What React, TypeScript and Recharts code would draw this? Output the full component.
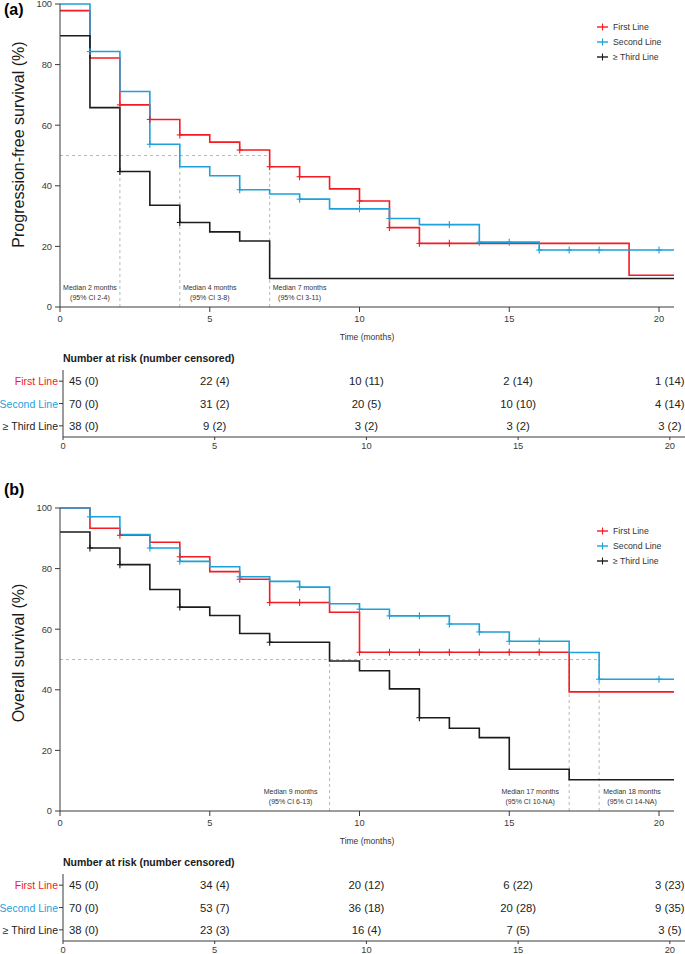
import React from 'react';
import { ComposedChart, Line, Scatter, XAxis, YAxis, ReferenceLine, ReferenceDot } from 'recharts';

const FONT = '"Liberation Sans", Arial, Helvetica, sans-serif';
const RED = '#F41B22';
const BLUE = '#1DA1DA';
const BLACK = '#1C1C1C';
const GREY = '#A6A6A6';
const AXIS = '#3A3A3A';

const groups = ['First Line', 'Second Line', '≥ Third Line'];
const groupColors = [RED, BLUE, BLACK];
const timeTicks = [0, 5, 10, 15, 20];
const survTicks = [0, 20, 40, 60, 80, 100];
const riskTimes = [0, 5, 10, 15, 20];

// (a) progression-free survival: step times (months), survival (%), censor times
const pfsFirstT = [0, 1, 2, 3, 4, 5, 6, 7, 8, 9, 10, 11, 12, 19, 20.5];
const pfsFirstS = [97.8, 82.2, 66.7, 61.9, 56.8, 54.4, 51.8, 46.3, 43.0, 39.0, 35.0, 26.2, 21.0, 10.5, 10.5];
const pfsFirstCens = [2, 3, 4, 6, 7, 8, 10, 11, 12, 13];

const pfsSecondT = [0, 1, 2, 3, 4, 5, 6, 7, 8, 9, 11, 12, 14, 16, 20.5];
const pfsSecondS = [100, 84.3, 71.1, 53.7, 46.3, 43.3, 38.7, 37.3, 35.6, 32.4, 29.2, 27.2, 21.4, 18.8, 18.8];
const pfsSecondCens = [1, 3, 6, 8, 10, 11, 13, 14, 15, 16, 17, 18, 20];

const pfsThirdT = [0, 1, 2, 3, 4, 5, 6, 7, 20.5];
const pfsThirdS = [89.5, 65.8, 44.7, 33.6, 27.9, 24.8, 21.8, 9.4, 9.4];
const pfsThirdCens = [2, 4];

// (b) overall survival
const osFirstT = [0, 1, 2, 3, 4, 5, 6, 7, 9, 10, 17, 20.5];
const osFirstS = [100, 93.3, 91.0, 88.7, 83.9, 79.0, 76.5, 68.8, 65.6, 52.4, 39.3, 39.3];
const osFirstCens = [2, 4, 6, 7, 8, 10, 11, 12, 13, 14, 15, 16];

const osSecondT = [0, 1, 2, 3, 4, 5, 6, 7, 8, 9, 10, 11, 13, 14, 15, 17, 18, 20.5];
const osSecondS = [100, 97.1, 91.2, 86.8, 82.4, 80.6, 77.3, 75.8, 73.9, 68.4, 66.6, 64.4, 61.7, 59.1, 56.0, 52.3, 43.5, 43.5];
const osSecondCens = [1, 3, 4, 6, 8, 10, 11, 12, 13, 14, 15, 16, 18, 20];

const osThirdT = [0, 1, 2, 3, 4, 5, 6, 7, 9, 10, 11, 12, 13, 14, 15, 17, 20.5];
const osThirdS = [92.1, 86.8, 81.3, 73.1, 67.3, 64.5, 58.6, 55.7, 49.5, 46.3, 40.3, 30.8, 27.3, 24.2, 13.8, 10.3, 10.3];
const osThirdCens = [1, 2, 4, 7, 12];

// medians: time, where the note sits, note text
const pfsMedians = [
  { t: 2, at: 1, label: 'Median 2 months', ci: '(95% CI 2-4)' },
  { t: 4, at: 5, label: 'Median 4 months', ci: '(95% CI 3-8)' },
  { t: 7, at: 8, label: 'Median 7 months', ci: '(95% CI 3-11)' },
];
const osMedians = [
  { t: 9, at: 7.7, label: 'Median 9 months', ci: '(95% CI 6-13)' },
  { t: 17, at: 15.7, label: 'Median 17 months', ci: '(95% CI 10-NA)' },
  { t: 18, at: 19.1, label: 'Median 18 months', ci: '(95% CI 14-NA)' },
];

// number at risk / number censored at 0, 5, 10, 15, 20 months
const pfsAtRisk = [
  [45, 22, 10, 2, 1],
  [70, 31, 20, 10, 4],
  [38, 9, 3, 3, 3],
];
const pfsCensored = [
  [0, 4, 11, 14, 14],
  [0, 2, 5, 10, 14],
  [0, 2, 2, 2, 2],
];
const osAtRisk = [
  [45, 34, 20, 6, 3],
  [70, 53, 36, 20, 9],
  [38, 23, 16, 7, 3],
];
const osCensored = [
  [0, 4, 12, 22, 23],
  [0, 7, 18, 28, 35],
  [0, 3, 4, 5, 5],
];

const steps = (times: number[], surv: number[]) => times.map((t, i) => ({ t, s: surv[i] }));

// censor marks sit on the curve value at that time
const censorPts = (times: number[], surv: number[], cens: number[]) =>
  cens.map((c) => {
    let s = surv[0];
    times.forEach((t, i) => {
      if (t <= c) s = surv[i];
    });
    return { t: c, s };
  });

const pfsCurves = [
  { color: RED, steps: steps(pfsFirstT, pfsFirstS), cens: censorPts(pfsFirstT, pfsFirstS, pfsFirstCens) },
  { color: BLUE, steps: steps(pfsSecondT, pfsSecondS), cens: censorPts(pfsSecondT, pfsSecondS, pfsSecondCens) },
  { color: BLACK, steps: steps(pfsThirdT, pfsThirdS), cens: censorPts(pfsThirdT, pfsThirdS, pfsThirdCens) },
];
const osCurves = [
  { color: RED, steps: steps(osFirstT, osFirstS), cens: censorPts(osFirstT, osFirstS, osFirstCens) },
  { color: BLUE, steps: steps(osSecondT, osSecondS), cens: censorPts(osSecondT, osSecondS, osSecondCens) },
  { color: BLACK, steps: steps(osThirdT, osThirdS), cens: censorPts(osThirdT, osThirdS, osThirdCens) },
];

function Cross(props: any) {
  const { cx, cy, fill } = props;
  if (cx == null || cy == null) return null;
  return (
    <g stroke={fill} strokeWidth={1.1}>
      <line x1={cx - 3} x2={cx + 3} y1={cy} y2={cy} />
      <line x1={cx} x2={cx} y1={cy - 3.5} y2={cy + 3.5} />
    </g>
  );
}

function YTitle(props: any) {
  const { viewBox, text, shift } = props;
  const x = 18;
  const y = viewBox.y + viewBox.height / 2 + shift;
  return (
    <text x={x} y={y} transform={`rotate(-90 ${x} ${y})`} textAnchor="middle" dominantBaseline="central" fontSize={16} fill="#1a1a1a">
      {text}
    </text>
  );
}

function MedianNote(props: any) {
  const { cx, cy, label, ci } = props;
  if (cx == null || cy == null) return null;
  return (
    <g fontSize={7} fill="#333">
      <text x={cx} y={cy - 5} textAnchor="middle" dominantBaseline="central">{label}</text>
      <text x={cx} y={cy + 5} textAnchor="middle" dominantBaseline="central">{ci}</text>
    </g>
  );
}

function SurvivalPlot({ curves, yTitle, titleShift, medians, medianEnd }: any) {
  return (
    <ComposedChart width={685} height={352} margin={{ top: 10, right: 11, bottom: 0, left: 0 }}>
      <XAxis
        dataKey="t"
        type="number"
        domain={[0, 20.5]}
        ticks={timeTicks}
        interval={0}
        allowDataOverflow
        height={39}
        tickSize={5}
        tickMargin={3}
        stroke={AXIS}
        tick={{ fontSize: 9.3, fill: AXIS }}
        label={{ value: 'Time (months)', position: 'insideBottom', offset: 6, fontSize: 8.5, fill: '#333' }}
      />
      <YAxis
        type="number"
        domain={[0, 100]}
        ticks={survTicks}
        interval={0}
        width={60}
        tickSize={5}
        tickMargin={3}
        stroke={AXIS}
        tick={{ fontSize: 9.3, fill: AXIS }}
        label={{ content: (p: any) => <YTitle {...p} text={yTitle} shift={titleShift} /> }}
      />
      <ReferenceLine segment={[{ x: 0, y: 50 }, { x: medianEnd, y: 50 }]} stroke={GREY} strokeDasharray="3 3" strokeWidth={0.8} />
      {medians.map((m: any) => (
        <ReferenceLine key={'v' + m.t} segment={[{ x: m.t, y: 0 }, { x: m.t, y: 50 }]} stroke={GREY} strokeDasharray="3 3" strokeWidth={0.8} />
      ))}
      {medians.map((m: any) => (
        <ReferenceDot key={'n' + m.t} x={m.at} y={4.75} r={0} shape={(p: any) => <MedianNote cx={p.cx} cy={p.cy} label={m.label} ci={m.ci} />} />
      ))}
      {curves.map((c: any, i: number) => (
        <Line
          key={'l' + i}
          data={c.steps}
          dataKey="s"
          type="stepAfter"
          stroke={c.color}
          strokeWidth={1.6}
          dot={false}
          activeDot={false}
          isAnimationActive={false}
        />
      ))}
      {curves.map((c: any, i: number) => (
        <Scatter key={'c' + i} data={c.cens} dataKey="s" fill={c.color} shape={(p: any) => <Cross {...p} />} isAnimationActive={false} />
      ))}
    </ComposedChart>
  );
}

function KeyLegend({ top }: { top: number }) {
  return (
    <div style={{ position: 'absolute', left: 596, top, fontSize: 8.7, color: '#333' }}>
      {groups.map((g, i) => (
        <div key={g} style={{ height: 15, display: 'flex', alignItems: 'center' }}>
          <svg width={13} height={10}>
            <line x1={1} x2={12} y1={5} y2={5} stroke={groupColors[i]} strokeWidth={1.4} />
            <line x1={6.5} x2={6.5} y1={1.5} y2={8.5} stroke={groupColors[i]} strokeWidth={1.1} />
          </svg>
          <span style={{ marginLeft: 4 }}>{g}</span>
        </div>
      ))}
    </div>
  );
}

function RowTick(p: any) {
  const name = groups[p.payload.value - 1];
  return (
    <text x={p.x} y={p.y} textAnchor="end" dominantBaseline="central" fontSize={10.5} fill={groupColors[p.payload.value - 1]}>
      {name}
    </text>
  );
}

function RiskText(p: any) {
  if (p.cx == null || p.cy == null) return null;
  const first = p.payload.t === 0;
  return (
    <text x={first ? p.cx + 6 : p.cx} y={p.cy} textAnchor={first ? 'start' : 'middle'} dominantBaseline="central" fontSize={11.3} fill="#222">
      {p.payload.text}
    </text>
  );
}

function RiskTable({ atRisk, censored }: any) {
  const rows = groups.map((g, gi) =>
    riskTimes.map((t, ti) => ({ t, row: gi + 1, text: `${atRisk[gi][ti]} (${censored[gi][ti]})` }))
  );
  return (
    <ComposedChart width={685} height={92} margin={{ top: 5, right: 0, bottom: 0, left: 0 }}>
      <XAxis
        dataKey="t"
        type="number"
        domain={[0, 20.5]}
        ticks={timeTicks}
        interval={0}
        allowDataOverflow
        height={20}
        tickSize={3}
        tickMargin={2}
        stroke={AXIS}
        tick={{ fontSize: 9.3, fill: AXIS }}
      />
      <YAxis
        type="number"
        domain={[0.5, 3.5]}
        ticks={[1, 2, 3]}
        interval={0}
        reversed
        width={63}
        tickSize={4}
        tickMargin={1}
        stroke={AXIS}
        tick={(p: any) => <RowTick {...p} />}
      />
      {rows.map((r, i) => (
        <Scatter key={'r' + i} data={r} dataKey="row" fill={BLACK} shape={(p: any) => <RiskText {...p} />} isAnimationActive={false} />
      ))}
    </ComposedChart>
  );
}

function Panel({ top, curves, yTitle, titleShift, medians, medianEnd, atRisk, censored }: any) {
  return (
    <div style={{ position: 'absolute', left: 0, top, width: 685, height: 460 }}>
      <div style={{ position: 'absolute', left: 0, top: -7 }}>
        <SurvivalPlot curves={curves} yTitle={yTitle} titleShift={titleShift} medians={medians} medianEnd={medianEnd} />
      </div>
      <KeyLegend top={18} />
      <div style={{ position: 'absolute', left: 63, top: 350, fontSize: 10.5, fontWeight: 'bold', color: '#1a1a1a', lineHeight: '15px', whiteSpace: 'nowrap' }}>
        Number at risk (number censored)
      </div>
      <div style={{ position: 'absolute', left: 0, top: 364 }}>
        <RiskTable atRisk={atRisk} censored={censored} />
      </div>
    </div>
  );
}

export default function App() {
  return (
    <div style={{ position: 'absolute', left: 0, top: 0, width: 685, height: 954, background: '#fff', fontFamily: FONT, overflow: 'hidden' }}>
      <Panel
        top={1}
        curves={pfsCurves}
        yTitle="Progression-free survival (%)"
        titleShift={-11}
        medians={pfsMedians}
        medianEnd={7}
        atRisk={pfsAtRisk}
        censored={pfsCensored}
      />
      <Panel
        top={505}
        curves={osCurves}
        yTitle="Overall survival (%)"
        titleShift={-6.5}
        medians={osMedians}
        medianEnd={18}
        atRisk={osAtRisk}
        censored={osCensored}
      />
      <div style={{ position: 'absolute', left: 4, top: 1, fontSize: 16, fontWeight: 'bold', lineHeight: '18px' }}>(a)</div>
      <div style={{ position: 'absolute', left: 4, top: 481, fontSize: 16, fontWeight: 'bold', lineHeight: '18px' }}>(b)</div>
    </div>
  );
}
